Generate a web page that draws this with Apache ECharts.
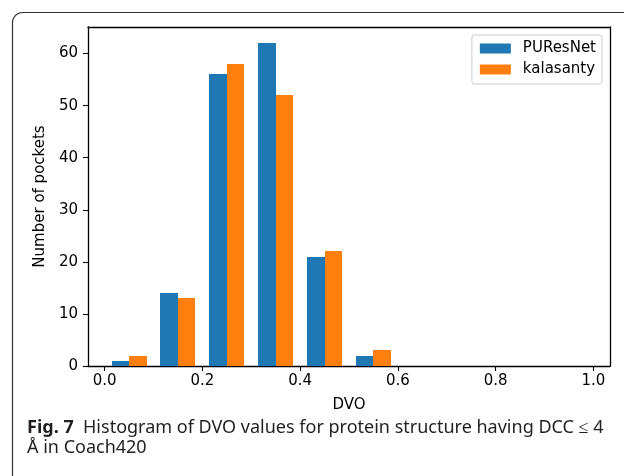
<!DOCTYPE html>
<html>
<head>
<meta charset="utf-8">
<script src="https://cdn.jsdelivr.net/npm/echarts@6/dist/echarts.min.js"></script>
<style>
html,body{margin:0;padding:0;background:#fff;}
#c{width:624px;height:476px;}
</style>
</head>
<body>
<div id="c"></div>
<script>
// ---- data ----
const binEdges = [0.0, 0.1, 0.2, 0.3, 0.4, 0.5, 0.6, 0.7, 0.8, 0.9, 1.0];
const seriesNames = ['PUResNet', 'kalasanty'];
const puresnetCounts = [1, 14, 56, 62, 21, 2, 0, 0, 0, 0];
const kalasantyCounts = [2, 13, 58, 52, 22, 3, 0, 0, 0, 0];
const xTicks = [0.0, 0.2, 0.4, 0.6, 0.8, 1.0];
const yTicks = [0, 10, 20, 30, 40, 50, 60];
const xLabel = 'DVO';
const yLabel = 'Number of pockets';
const captionBold = 'Fig. 7';
const captionLine1 = 'Histogram of DVO values for protein structure having DCC \u2264 4';
const captionLine2 = '\u00C5 in Coach420';

// ---- chart ----
const colors = ['#1f77b4', '#ff7f0e'];
const FONT = 'DejaVu Sans';
const pairFrac = 0.714; // fraction of bin covered by the pair of bars
const XMIN = -0.034, XMAX = 1.034, YMIN = 0, YMAX = 65.1;

function histData(counts) {
  return counts.map((c, i) => [binEdges[i], binEdges[i + 1], c]);
}

function makeRender(idx) {
  return function (params, api) {
    const x0 = api.value(0), x1 = api.value(1), y = api.value(2);
    if (y <= 0) return null;
    const w = x1 - x0;
    const start = x0 + w * (1 - pairFrac) / 2 + idx * w * pairFrac / 2;
    const end = start + w * pairFrac / 2;
    const p0 = api.coord([start, 0]);
    const p1 = api.coord([end, y]);
    const xa = Math.round(p0[0]), xb = Math.round(p1[0]);
    const ya = Math.round(p1[1]), yb = Math.round(p0[1]);
    return {
      type: 'rect',
      shape: { x: xa, y: ya, width: xb - xa, height: yb - ya },
      style: { fill: colors[idx], stroke: 'none', lineWidth: 0 }
    };
  };
}

const axisLineStyle = { color: '#000', width: 1.3 };
const chart = echarts.init(document.getElementById('c'), null, { renderer: 'canvas' });
chart.setOption({
  animation: false,
  backgroundColor: '#fff',
  grid: { left: 88, top: 27, right: 14, bottom: 110, show: false },
  legend: {
    right: 22, top: 35, orient: 'vertical',
    itemWidth: 31, itemHeight: 10, itemGap: 6,
    padding: [6, 6, 7, 8],
    borderColor: '#cccccc', borderWidth: 1, borderRadius: 3,
    backgroundColor: 'rgba(255,255,255,0.8)',
    textStyle: { fontFamily: FONT, fontSize: 15, color: '#000', padding: [0, 0, 0, 7] },
    data: seriesNames.map((n, i) => ({ name: n, icon: 'rect', itemStyle: { color: colors[i] } }))
  },
  xAxis: [{
    type: 'value', min: XMIN, max: XMAX, position: 'bottom',
    name: xLabel, nameLocation: 'middle', nameGap: 32,
    nameTextStyle: { fontFamily: FONT, fontSize: 15, color: '#000' },
    axisLine: { show: true, onZero: false, lineStyle: axisLineStyle },
    axisTick: { show: true, length: 5, lineStyle: { color: '#000', width: 1.1 }, customValues: xTicks },
    axisLabel: { fontFamily: FONT, fontSize: 15, color: '#000', margin: 8,
      customValues: xTicks, formatter: v => v.toFixed(1) },
    splitLine: { show: false }
  }, {
    type: 'value', min: XMIN, max: XMAX, position: 'top',
    axisLine: { show: true, onZero: false, lineStyle: axisLineStyle },
    axisTick: { show: false }, axisLabel: { show: false }, splitLine: { show: false }
  }],
  yAxis: [{
    type: 'value', min: YMIN, max: YMAX, position: 'left',
    name: yLabel, nameLocation: 'middle', nameGap: 31,
    nameTextStyle: { fontFamily: FONT, fontSize: 15, color: '#000' },
    axisLine: { show: true, onZero: false, lineStyle: axisLineStyle },
    axisTick: { show: true, length: 5, lineStyle: { color: '#000', width: 1.1 }, customValues: yTicks },
    axisLabel: { fontFamily: FONT, fontSize: 15, color: '#000', margin: 10,
      customValues: yTicks, formatter: v => String(v) },
    splitLine: { show: false }
  }, {
    type: 'value', min: YMIN, max: YMAX, position: 'right',
    axisLine: { show: true, onZero: false, lineStyle: axisLineStyle },
    axisTick: { show: false }, axisLabel: { show: false }, splitLine: { show: false }
  }],
  series: [
    { name: seriesNames[0], type: 'custom', renderItem: makeRender(0), data: histData(puresnetCounts),
      itemStyle: { color: colors[0], borderWidth: 0 }, encode: { x: [0, 1], y: 2 } },
    { name: seriesNames[1], type: 'custom', renderItem: makeRender(1), data: histData(kalasantyCounts),
      itemStyle: { color: colors[1], borderWidth: 0 }, encode: { x: [0, 1], y: 2 } }
  ],
  graphic: [
    { type: 'rect', left: 10, top: 10, silent: true, z: -1,
      shape: { x: 0, y: 0, width: 660, height: 520, r: 10 },
      style: { fill: 'none', stroke: '#333', lineWidth: 1.2 } },
    { type: 'text', left: 27, top: 419,
      style: {
        text: '{b|' + captionBold + '}  ' + captionLine1,
        font: '18px "Noto Sans"', fill: '#231f20',
        rich: { b: { fontFamily: 'Noto Sans', fontWeight: 'bold', fontSize: 18, fill: '#231f20' } }
      } },
    { type: 'text', left: 27, top: 439,
      style: { text: captionLine2, font: '18px "Noto Sans"', fill: '#231f20' } }
  ]
});
</script>
</body>
</html>
